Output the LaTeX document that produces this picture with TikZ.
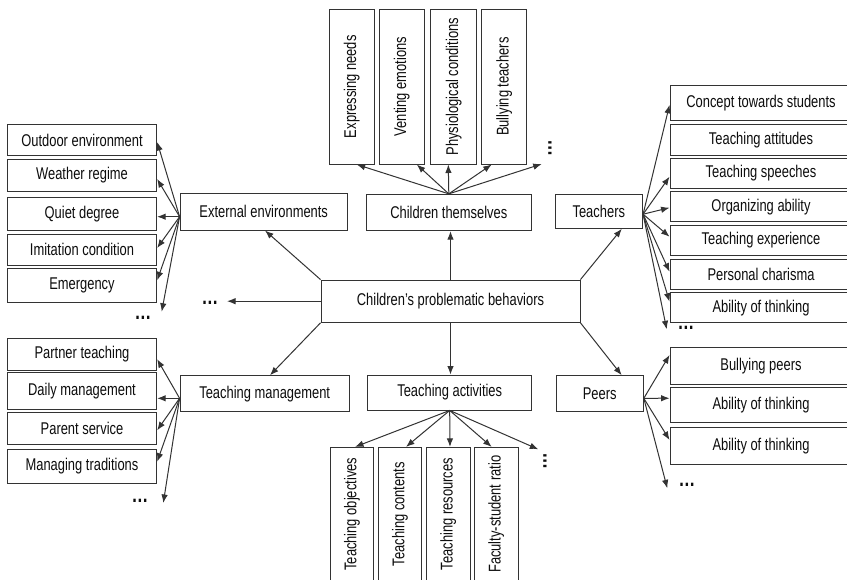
\documentclass[tikz,border=0pt]{standalone}
\usepackage{fontspec}
\usepackage{graphicx}
\setmainfont[FakeStretch=0.76]{Liberation Sans}
\usetikzlibrary{arrows.meta}
\begin{document}
\begin{tikzpicture}[x=1pt,y=-1pt,
  bx/.style={draw=black!80, line width=0.9pt, inner sep=0pt, font=\fontsize{17}{20}\selectfont, text=black!95},
  ar/.style={draw=black!80, line width=1pt, -{Latex[length=8.5pt,width=6.5pt]}},
  dts/.style={inner sep=0pt, font=\fontsize{22}{24}\selectfont\bfseries, text=black!95}]
\clip (0,0) rectangle (847,579);
\fill[white] (0,0) rectangle (847,579);

% centre
\node[bx, minimum width=259pt, minimum height=42.3pt] (cpb) at (450.5,301.2) {Children’s problematic behaviors};

% external environments group
\node[bx, minimum width=167.3pt, minimum height=36.7pt] (ext) at (263.7,211.7) {External environments};
\node[bx, minimum width=149.4pt, minimum height=31.4pt] (oe) at (82,140) {Outdoor environment};
\node[bx, minimum width=149.4pt, minimum height=32pt] (wr) at (82,175) {Weather regime};
\node[bx, minimum width=149.4pt, minimum height=32.7pt] (qd) at (82,213.7) {Quiet degree};
\node[bx, minimum width=149.4pt, minimum height=31pt] (ic) at (82,249.5) {Imitation condition};
\node[bx, minimum width=149.4pt, minimum height=33.3pt] (em) at (82,285.3) {Emergency};
\node[dts] (d1) at (143,318) {\dots};

% children themselves group
\node[bx, minimum width=164.3pt, minimum height=36.4pt] (ct) at (448.8,212.5) {Children themselves};
\node[bx, minimum width=45.3pt, minimum height=154.7pt] (en) at (351.7,86.7) {\rotatebox{90}{Expressing needs}};
\node[bx, minimum width=45.7pt, minimum height=154.7pt] (ve) at (401.8,86.7) {\rotatebox{90}{Venting emotions}};
\node[bx, minimum width=46pt, minimum height=154.7pt] (pc) at (453.7,86.7) {\rotatebox{90}{Physiological conditions}};
\node[bx, minimum width=45pt, minimum height=154.7pt] (bt) at (504.2,86.7) {\rotatebox{90}{Bullying teachers}};
\node[dts] (d4) at (550,148.5) {\rotatebox{90}{\dots}};

% teachers group
\node[bx, minimum width=87.7pt, minimum height=34.3pt] (tea) at (598.8,211.2) {Teachers};
\node[bx, minimum width=182pt, minimum height=35.7pt] (cs) at (761,102.8) {Concept towards students};
\node[bx, minimum width=182pt, minimum height=30.7pt] (ta) at (761,139.7) {Teaching attitudes};
\node[bx, minimum width=182pt, minimum height=30pt] (ts) at (761,173.3) {Teaching speeches};
\node[bx, minimum width=182pt, minimum height=30pt] (oa) at (761,206.7) {Organizing ability};
\node[bx, minimum width=182pt, minimum height=29.3pt] (te) at (761,240.3) {Teaching experience};
\node[bx, minimum width=182pt, minimum height=30pt] (pch) at (761,274.3) {Personal charisma};
\node[bx, minimum width=182pt, minimum height=30pt] (at1) at (761,307.7) {Ability of thinking};
\node[dts] (d6) at (686,328) {\dots};

% left dots
\node[dts] (d2) at (210,302.7) {\dots};

% teaching management group
\node[bx, minimum width=169.3pt, minimum height=36pt] (tm) at (264.7,393.7) {Teaching management};
\node[bx, minimum width=149.4pt, minimum height=31.7pt] (ptc) at (82,354.2) {Partner teaching};
\node[bx, minimum width=149.4pt, minimum height=36.7pt] (dm) at (82,390.7) {Daily management};
\node[bx, minimum width=149.4pt, minimum height=32pt] (ps) at (82,428.3) {Parent service};
\node[bx, minimum width=149.4pt, minimum height=34.3pt] (mt) at (82,466.2) {Managing traditions};
\node[dts] (d3) at (140,501) {\dots};

% teaching activities group
\node[bx, minimum width=164pt, minimum height=35pt] (tac) at (449.7,392.5) {Teaching activities};
\node[bx, minimum width=42.6pt, minimum height=133.7pt] (tob) at (352,514.2) {\rotatebox{90}{Teaching objectives}};
\node[bx, minimum width=43.4pt, minimum height=133.7pt] (tco) at (400,514.2) {\rotatebox{90}{Teaching contents}};
\node[bx, minimum width=43.3pt, minimum height=133.7pt] (tre) at (448.3,514.2) {\rotatebox{90}{Teaching resources}};
\node[bx, minimum width=44pt, minimum height=133.7pt] (fsr) at (496.3,514.2) {\rotatebox{90}{Faculty-student ratio}};
\node[dts] (d5) at (545,461.5) {\rotatebox{90}{\dots}};

% peers group
\node[bx, minimum width=87.3pt, minimum height=35.3pt] (peers) at (599.7,393.3) {Peers};
\node[bx, minimum width=182pt, minimum height=36.7pt] (bp) at (761,365.7) {Bullying peers};
\node[bx, minimum width=182pt, minimum height=35pt] (at2) at (761,405.2) {Ability of thinking};
\node[bx, minimum width=182pt, minimum height=36.3pt] (at3) at (761,445.8) {Ability of thinking};
\node[dts] (d7) at (687,485) {\dots};

% free ends near dots
\coordinate (e6) at (161.7,311.7);
\coordinate (c6) at (541.7,164);
\coordinate (r8) at (666.7,329.3);
\coordinate (lt) at (227,301.2);
\coordinate (t6) at (163.3,503);
\coordinate (a6) at (538.3,449.3);
\coordinate (p5) at (667.3,488.3);

% centre connectors
\draw[ar] (cpb.north west) -- ([xshift=1.3pt]ext.south);
\draw[ar] (cpb.north) -- (cpb.north |- ct.south);
\draw[ar] (cpb.north east) -- ([xshift=23pt]tea.south);
\draw[ar] (cpb.south west) -- ([xshift=5.3pt]tm.north);
\draw[ar] (cpb.south) -- (cpb.south |- tac.north);
\draw[ar] (cpb.south east) -- ([xshift=22pt]peers.north);
\draw[ar] (cpb.west) -- (lt);

% external fan
\coordinate (e0) at ([yshift=-5pt]ext.west);
\draw[ar] (e0) -- ([yshift=-2pt]oe.east);
\draw[ar] (e0) -- ([yshift=-4pt]wr.east);
\draw[ar] (e0) -- ([yshift=-3pt]qd.east);
\draw[ar] (e0) -- ([yshift=1.5pt]ic.east);
\draw[ar] (e0) -- ([yshift=5pt]em.east);
\draw[ar] (e0) -- (e6);

% children themselves fan
\draw[ar] (ct.north) -- ([xshift=5pt]en.south);
\draw[ar] (ct.north) -- ([xshift=15pt]ve.south);
\draw[ar] (ct.north) -- ([xshift=-5.4pt]pc.south);
\draw[ar] (ct.north) -- ([xshift=-12.5pt]bt.south);
\draw[ar] (ct.north) -- (c6);

% teachers fan
\coordinate (r0) at ([yshift=-3pt]tea.east);
\draw[ar] (r0) -- ([yshift=-2pt]cs.west);
\draw[ar] (r0) -- ([yshift=-3.4pt]ts.west);
\draw[ar] (r0) -- ([yshift=-1pt]oa.west);
\draw[ar] (r0) -- ([yshift=3.6pt]te.west);
\draw[ar] (r0) -- ([yshift=2.6pt]pch.west);
\draw[ar] (r0) -- ([yshift=6pt]at1.west);
\draw[ar] (r0) -- (r8);

% teaching management fan
\coordinate (t0) at ([yshift=-4.6pt]tm.west);
\draw[ar] (t0) -- ([yshift=-5pt]ptc.east);
\draw[ar] (t0) -- ([yshift=-7.6pt]dm.east);
\draw[ar] (t0) -- ([yshift=-2pt]ps.east);
\draw[ar] (t0) -- ([yshift=4.5pt]mt.east);
\draw[ar] (t0) -- (t6);

% teaching activities fan
\draw[ar] (tac.south) -- ([xshift=3pt]tob.north);
\draw[ar] (tac.south) -- ([xshift=6pt]tco.north);
\draw[ar] (tac.south) -- ([xshift=1.7pt]tre.north);
\draw[ar] (tac.south) -- ([xshift=-4.6pt]fsr.north);
\draw[ar] (tac.south) -- (a6);

% peers fan
\coordinate (p0) at ([yshift=-5pt]peers.east);
\draw[ar] (p0) -- ([yshift=10.7pt]bp.west);
\draw[ar] (p0) -- ([yshift=7pt]at2.west);
\draw[ar] (p0) -- ([yshift=5.8pt]at3.west);
\draw[ar] (p0) -- (p5);
\end{tikzpicture}
\end{document}
